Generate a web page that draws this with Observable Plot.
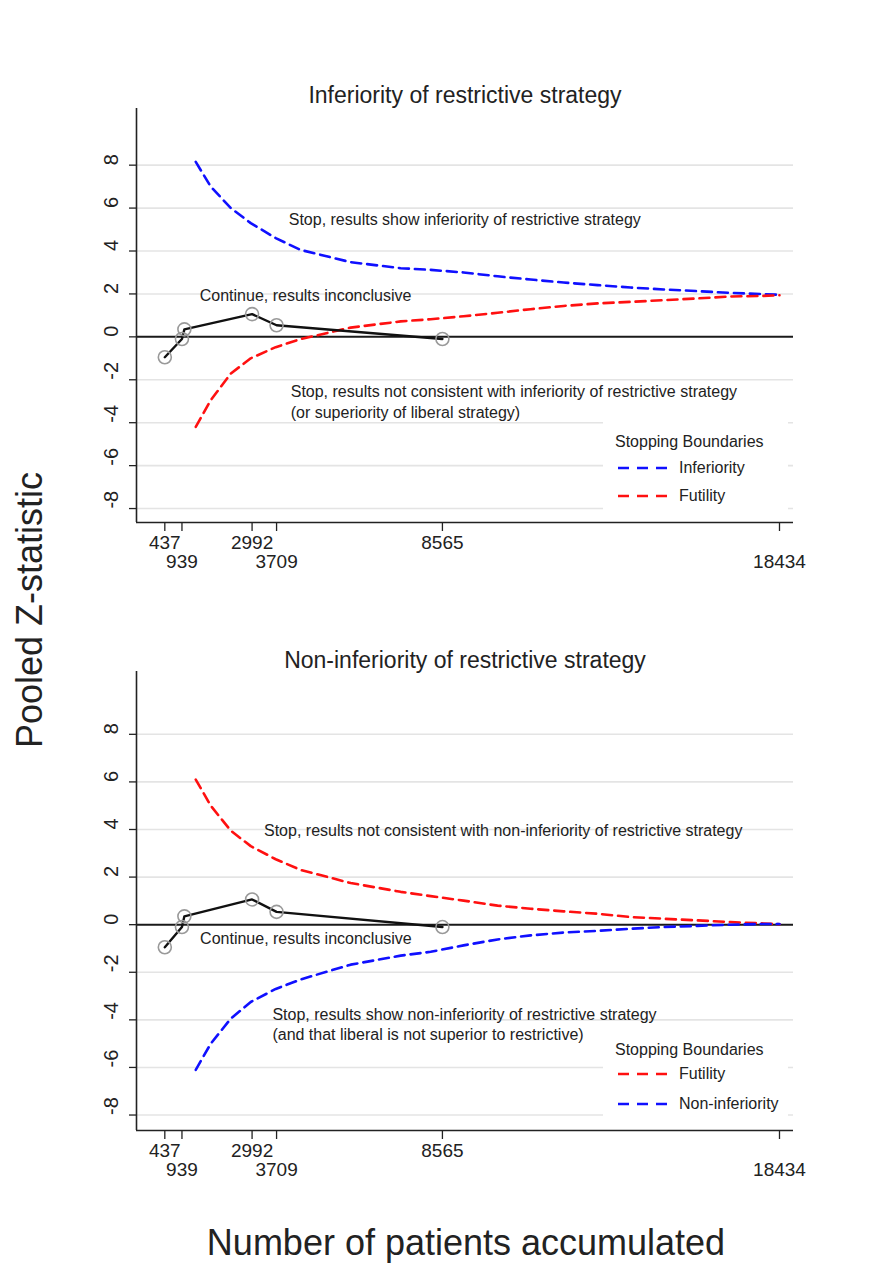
<!DOCTYPE html>
<html>
<head>
<meta charset="utf-8">
<script src="https://cdn.jsdelivr.net/npm/d3@7"></script>
<script src="https://cdn.jsdelivr.net/npm/@observablehq/plot@0.6"></script>
<style>
  html, body { margin: 0; padding: 0; background: #fff; }
  #page { position: relative; width: 881px; height: 1263px; overflow: hidden; font-family: "Liberation Sans", Arial, sans-serif; color: #222; }
  .title { font-size: 23px; transform: translate(-50%, -50%); white-space: nowrap; }
  .biglabel { font-size: 36px; white-space: nowrap; }
  .legend { background: #fff; }
  .legend .t { position: absolute; font-size: 16px; transform: translateY(-50%); white-space: nowrap; }
  .legend svg { position: absolute; }
</style>
</head>
<body>
<div id="page"></div>
<script>
// ---------- data ----------
const observedN = [437, 939, 1010, 2992, 3709, 8565];
const observedZ = [-0.95, -0.1, 0.35, 1.06, 0.54, -0.1];

const boundaryN = [1343, 1782, 2368, 2953, 3685, 4416, 5879, 7343, 8221, 9184, 10180, 11147, 12113, 13107, 14073, 15039, 16033, 16999, 17965, 18434];
// Panel 1: inferiority of restrictive strategy
const inferiorityUpper = [8.15, 7.0, 6.0, 5.3, 4.6, 4.05, 3.48, 3.2, 3.12, 3.0, 2.82, 2.67, 2.53, 2.41, 2.3, 2.21, 2.13, 2.05, 1.99, 1.96];
const futilityLower = [-4.19, -2.95, -1.71, -1.0, -0.48, -0.1, 0.43, 0.72, 0.82, 0.96, 1.12, 1.29, 1.44, 1.56, 1.63, 1.71, 1.79, 1.88, 1.91, 1.94];
// Panel 2: non-inferiority of restrictive strategy
const futilityUpper = [6.1, 5.0, 3.95, 3.3, 2.75, 2.3, 1.75, 1.38, 1.2, 1.01, 0.8, 0.67, 0.56, 0.46, 0.32, 0.25, 0.18, 0.11, 0.05, 0.02];
const nonInferiorityLower = [-6.1, -5.0, -3.95, -3.25, -2.7, -2.3, -1.68, -1.3, -1.14, -0.87, -0.62, -0.45, -0.33, -0.26, -0.17, -0.1, -0.05, 0, 0.03, 0.03];

const xTickValues = [437, 939, 2992, 3709, 8565, 18434];
const xTickRow = [0, 1, 0, 1, 0, 1];
const yTickValues = [-8, -6, -4, -2, 0, 2, 4, 6, 8];

const titles = ["Inferiority of restrictive strategy", "Non-inferiority of restrictive strategy"];
const notesTop = [
  {n: 4065, z: 5.44, text: "Stop, results show inferiority of restrictive strategy"},
  {n: 1460, z: 1.91, text: "Continue, results inconclusive"},
  {n: 4123, z: -2.56, text: "Stop, results not consistent with inferiority of restrictive strategy"},
  {n: 4123, z: -3.56, text: "(or superiority of liberal strategy)"}
];
const notesBottom = [
  {n: 3341, z: 3.95, text: "Stop, results not consistent with non-inferiority of restrictive strategy"},
  {n: 1470, z: -0.59, text: "Continue, results inconclusive"},
  {n: 3587, z: -3.79, text: "Stop, results show non-inferiority of restrictive strategy"},
  {n: 3587, z: -4.63, text: "(and that liberal is not superior to restrictive)"}
];
const legendTitle = "Stopping Boundaries";
const legendTop = [{label: "Inferiority", color: "#1010ff"}, {label: "Futility", color: "#ff1010"}];
const legendBottom = [{label: "Futility", color: "#ff1010"}, {label: "Non-inferiority", color: "#1010ff"}];

const xDomain = [-392, 18844];
const yDomain = [-8.65, 10.64];
const BLUE = "#1010ff", RED = "#ff1010";
const FONT = '"Liberation Sans", Arial, sans-serif';

function panel(upper, upperColor, lower, lowerColor, notes, opts) {
  const upperRows = boundaryN.map((n, i) => ({n, z: upper[i]}));
  const lowerRows = boundaryN.map((n, i) => ({n, z: lower[i]}));
  const obs = observedN.map((n, i) => ({n, z: observedZ[i]}));
  const ticks = xTickValues.map((v, i) => ({v, row: xTickRow[i]}));
  return Plot.plot({
    width: 881,
    height: opts.height,
    marginTop: opts.marginTop,
    marginBottom: opts.marginBottom,
    marginLeft: 136,
    marginRight: 88,
    style: {fontFamily: FONT, overflow: "visible", background: "transparent"},
    x: {type: "linear", domain: xDomain, axis: null},
    y: {type: "linear", domain: yDomain, axis: null},
    marks: [
      Plot.ruleY(yTickValues.filter(d => d !== 0), {stroke: "#e4e4e4", strokeWidth: 1.6}),
      Plot.ruleY([0], {stroke: "#1a1a1a", strokeWidth: 2}),
      Plot.line(upperRows, {x: "n", y: "z", stroke: upperColor, strokeWidth: 2.6, strokeDasharray: "10,6"}),
      Plot.line(lowerRows, {x: "n", y: "z", stroke: lowerColor, strokeWidth: 2.6, strokeDasharray: "10,6"}),
      Plot.line(obs, {x: "n", y: "z", stroke: "#111", strokeWidth: 2.4}),
      Plot.dot(obs, {x: "n", y: "z", r: 6.5, stroke: "#999", strokeWidth: 1.6, fill: "none"}),
      Plot.text(notes, {x: "n", y: "z", text: "text", textAnchor: "start", fontSize: 16, fill: "#222"}),
      // axes
      Plot.ruleX([xDomain[0]], {stroke: "#222", strokeWidth: 1.6}),
      Plot.ruleY([yDomain[0]], {stroke: "#222", strokeWidth: 1.6}),
      Plot.axisY(yTickValues, {tickSize: 7, tickFormat: () => "", label: null, stroke: "#222", strokeWidth: 1.3}),
      Plot.text(yTickValues, {y: d => d, frameAnchor: "left", text: d => String(d), rotate: -90, dx: -25, fontSize: 20, fill: "#222"}),
      Plot.axisX(xTickValues, {tickSize: 9, tickFormat: () => "", label: null, stroke: "#222", strokeWidth: 1.3}),
      Plot.text(ticks.filter(d => d.row === 0), {x: "v", text: d => String(d.v), frameAnchor: "bottom", dy: 26, fontSize: 19, fill: "#222"}),
      Plot.text(ticks.filter(d => d.row === 1), {x: "v", text: d => String(d.v), frameAnchor: "bottom", dy: 45, fontSize: 19, fill: "#222"})
    ]
  });
}

const page = document.getElementById("page");

function place(el, left, top) {
  el.style.position = "absolute";
  el.style.left = left + "px";
  el.style.top = top + "px";
  page.appendChild(el);
  return el;
}

const top1 = panel(inferiorityUpper, BLUE, futilityLower, RED, notesTop, {height: 600, marginTop: 108, marginBottom: 78});
place(top1, 0, 0);
const top2 = panel(futilityUpper, RED, nonInferiorityLower, BLUE, notesBottom, {height: 600, marginTop: 71, marginBottom: 70});
place(top2, 0, 600);

function div(cls, text) { const d = document.createElement("div"); d.className = cls; if (text) d.textContent = text; return d; }

place(div("title", titles[0]), 465, 95);
place(div("title", titles[1]), 465, 660);

const ylab = div("biglabel", "Pooled Z-statistic");
ylab.style.transform = "translate(-50%, -50%) rotate(-90deg)";
place(ylab, 30, 610);
const xlab = div("biglabel", "Number of patients accumulated");
xlab.style.transform = "translate(-50%, -50%)";
place(xlab, 466, 1243);

function legend(items, left, top, width, height, titleY, rowYs) {
  const box = div("legend");
  box.style.width = width + "px";
  box.style.height = height + "px";
  place(box, left, top);
  const t = div("t", legendTitle);
  t.style.left = "12px"; t.style.top = titleY + "px";
  box.appendChild(t);
  items.forEach((it, i) => {
    const svg = d3.create("svg").attr("width", 52).attr("height", 6)
      .style("left", "15px").style("top", (rowYs[i] - 3) + "px");
    svg.append("line").attr("x1", 0).attr("x2", 52).attr("y1", 3).attr("y2", 3)
      .attr("stroke", it.color).attr("stroke-width", 2.6).attr("stroke-dasharray", "11,8");
    box.appendChild(svg.node());
    const lt = div("t", it.label);
    lt.style.left = "76px"; lt.style.top = rowYs[i] + "px";
    box.appendChild(lt);
  });
}
legend(legendTop, 603, 410, 185, 108, 32, [58, 86]);
legend(legendBottom, 603, 1030, 185, 95, 20, [44, 74]);
</script>
</body>
</html>
